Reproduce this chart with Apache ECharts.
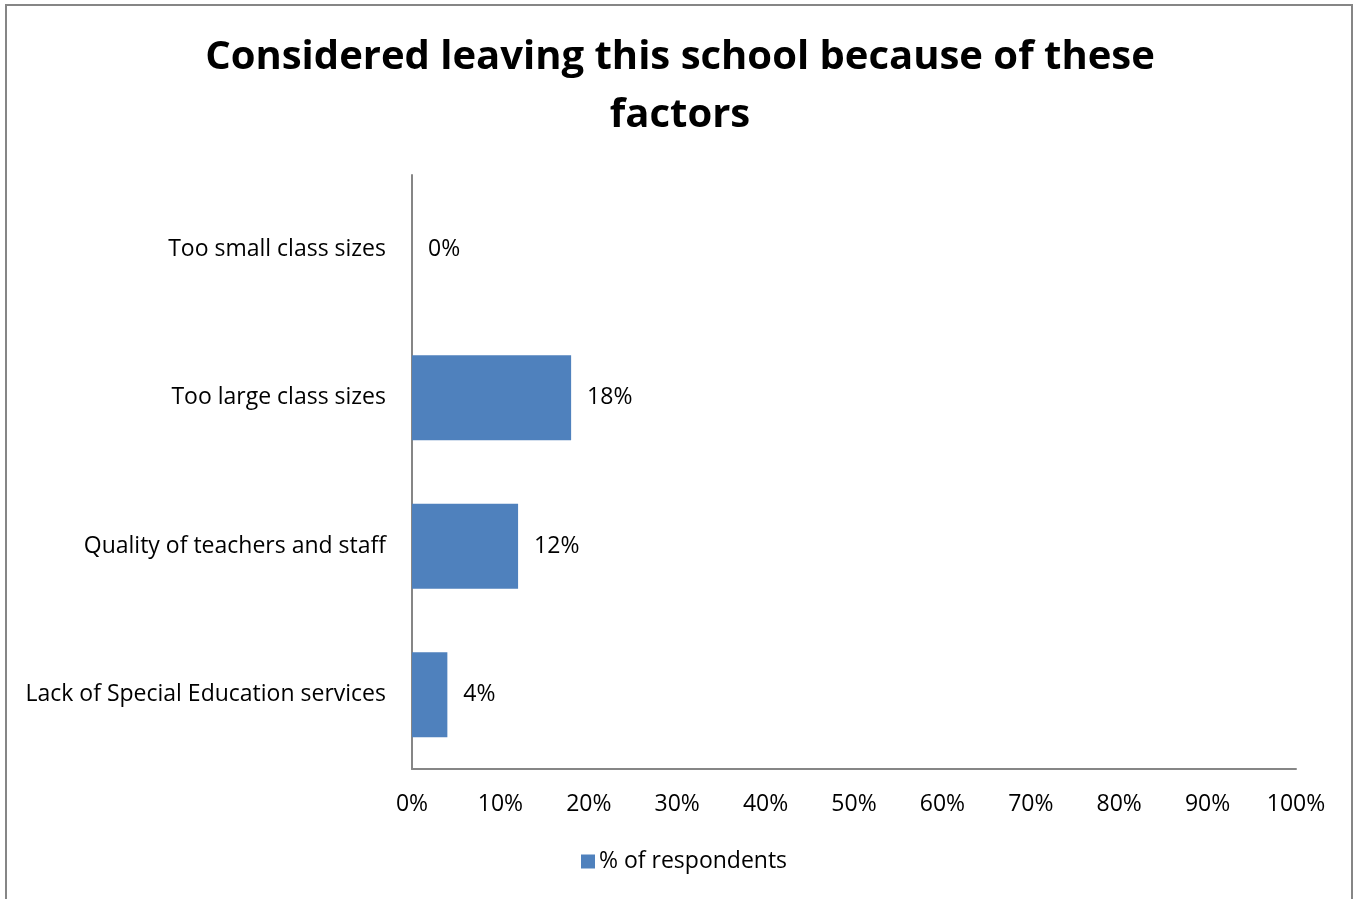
<!DOCTYPE html>
<html>
<head>
<meta charset="utf-8">
<script src="https://cdn.jsdelivr.net/npm/echarts@6/dist/echarts.min.js"></script>
<style>
  html, body { margin: 0; padding: 0; background: #fff; }
  #chart { width: 1356px; height: 899px; }
  #frame { position: absolute; left: 5px; top: 4px; width: 1348px; height: 920px; border: 2px solid #868686; box-sizing: border-box; pointer-events: none; }
</style>
</head>
<body>
<div id="chart"></div>
<div id="frame"></div>
<script>
const titleText = 'Considered leaving this school because of these\nfactors';
const categories = ['Too small class sizes', 'Too large class sizes', 'Quality of teachers and staff', 'Lack of Special Education services'];
const values = [0, 18, 12, 4];
const seriesName = '% of respondents';
const xTicks = [0, 10, 20, 30, 40, 50, 60, 70, 80, 90, 100];

const FONT = '"Open Sans", Lato, sans-serif';
const chart = echarts.init(document.getElementById('chart'));
chart.setOption({
  animation: false,
  textStyle: { fontFamily: FONT },
  title: {
    text: titleText,
    left: 675,
    textAlign: 'center',
    top: 24,
    textStyle: { fontFamily: FONT, fontSize: 40, fontWeight: 'bold', color: '#000', lineHeight: 58 }
  },
  legend: {
    data: [seriesName],
    bottom: 21,
    left: 576,
    icon: 'rect',
    itemWidth: 14,
    itemHeight: 14,
    itemGap: 6,
    textStyle: { fontFamily: FONT, fontSize: 23, color: '#000', padding: [0, 0, 0, -1] }
  },
  grid: { left: 412, right: 60, top: 175, bottom: 130, containLabel: false },
  xAxis: {
    type: 'value',
    min: xTicks[0],
    max: xTicks[xTicks.length - 1],
    interval: 10,
    splitLine: { show: false },
    axisLine: { show: true, lineStyle: { color: '#868686', width: 2 } },
    axisTick: { show: false },
    axisLabel: { formatter: '{value}%', fontFamily: FONT, fontSize: 23, color: '#000', margin: 24 }
  },
  yAxis: {
    type: 'category',
    data: categories,
    inverse: true,
    axisLine: { show: true, lineStyle: { color: '#868686', width: 2 } },
    axisTick: { show: false },
    axisLabel: { fontFamily: FONT, fontSize: 23, color: '#000', margin: 26, padding: [4, 0, 0, 0] }
  },
  series: [{
    name: seriesName,
    type: 'bar',
    data: values,
    barWidth: 85,
    itemStyle: { color: '#4F81BD' },
    label: {
      show: true,
      position: 'right',
      distance: 16,
      formatter: '{c}%',
      fontFamily: FONT,
      fontSize: 23,
      color: '#000',
      padding: [4, 0, 0, 0]
    }
  }]
});
</script>
</body>
</html>
